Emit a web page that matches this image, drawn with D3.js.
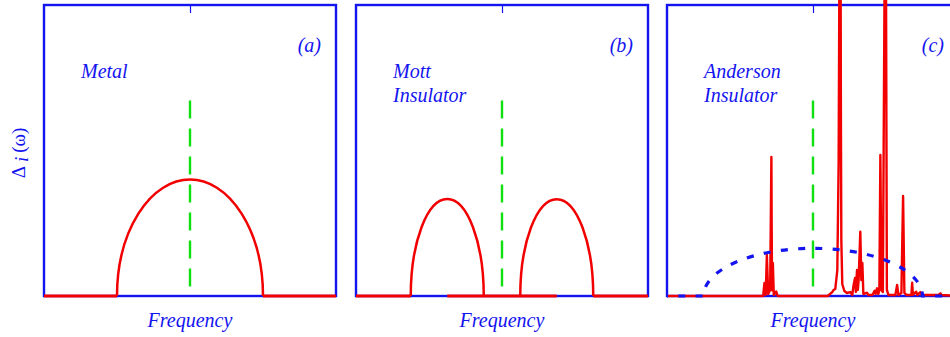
<!DOCTYPE html>
<html>
<head>
<meta charset="utf-8">
<script src="https://cdn.jsdelivr.net/npm/d3@7"></script>
<style>
  html, body { margin: 0; padding: 0; background: #fff; }
  svg { display: block; }
  text { font-family: "Liberation Serif", "Times New Roman", serif; fill: #1414f0; }
</style>
</head>
<body>
<svg id="chart" width="950" height="337"></svg>
<script>
// ---------------- data ----------------
const panelTags = ["(a)", "(b)", "(c)"];
const panelNames = [["Metal"], ["Mott", "Insulator"], ["Anderson", "Insulator"]];
const xTitle = "Frequency";
const yTitle = ["\u0394", "i", "(\u03c9)"];

const freqDomain = [-2, 2];
const dosDomain = [0, 2.5];
const fermiLevel = 0;
const fermiLineTop = 1.68;

// semicircular bands: [centre, half-width, height]
const bandsMetal = [[0, 1.0, 1.0]];
const bandsMott = [[-0.75, 0.5, 0.833], [0.75, 0.5, 0.833]];
// red zero-level segments: [from, to]
const zeroMetal = [[-2, -1], [1, 2]];
const zeroMott = [[-2, -1.25], [-0.75, 0.75], [1.25, 2]];
// host (clean) band drawn dashed in the Anderson panel
const hostBand = [0, 1.5, 0.41];
const hostZero = [[-2, -1.5], [1.5, 2]];

// Anderson local spectrum: [frequency, value]
const andersonSpectrum = [
  [-2.0, 0], [-0.683, 0], [-0.665, 0.112], [-0.648, 0.009], [-0.632, 0.352],
  [-0.614, 0.017], [-0.587, 0.052], [-0.570, 1.194], [-0.566, 0.60], [-0.561, 0.05],
  [-0.550, 0.283], [-0.537, 0.009], [-0.504, 0.039], [-0.484, 0],
  [0.20, 0], [0.264, 0.034], [0.282, 0.052], [0.305, 0.060], [0.333, 0.223],
  [0.351, 1.143], [0.358, 2.2], [0.364, 3.2], [0.377, 3.2], [0.382, 1.6], [0.388, 0.481],
  [0.401, 0.103], [0.429, 0.043], [0.466, 0.026], [0.511, 0.034], [0.539, 0.009],
  [0.556, 0.095], [0.576, 0.155], [0.587, 0.034], [0.603, 0.223], [0.614, 0.052],
  [0.625, 0.137], [0.648, 0.552], [0.662, 0.137], [0.676, 0.283], [0.690, 0.017],
  [0.740, 0.028], [0.758, 0.009], [0.813, 0.009], [0.845, 0.046], [0.858, 0.017],
  [0.878, 0.066], [0.895, 0.017], [0.909, 0.052], [0.923, 1.211], [0.937, 0.052],
  [0.957, 0.034], [0.985, 3.2], [0.998, 3.2], [1.012, 0.052], [1.033, 0.009],
  [1.129, 0.009], [1.152, 0.095], [1.170, 0.009], [1.211, 0.026], [1.234, 0.859],
  [1.252, 0.026], [1.280, 0.009], [1.348, 0.009], [1.358, 0.114], [1.369, 0.009],
  [1.413, 0.037], [1.431, 0.009], [1.472, 0.034], [1.485, 0.009], [1.719, 0.009],
  [1.746, 0.023], [1.760, 0.009], [2.0, 0]
];

// ---------------- layout ----------------
const BLUE = "#1414f0", RED = "#f20000", GREEN = "#10e010";
const panelLeft = [44, 356, 667];
const panelW = 292, panelTop = 5, panelBottom = 296;

const svg = d3.select("#chart");

function semiEllipsePath(x, y, b) {
  const [c, w, h] = b;
  const x0 = x(c - w), x1 = x(c + w);
  const rx = (x1 - x0) / 2, ry = y(0) - y(h);
  return `M${x0},${y(0)} A${rx},${ry} 0 0 1 ${x1},${y(0)}`;
}

panelLeft.forEach((left, i) => {
  const x = d3.scaleLinear().domain(freqDomain).range([left, left + panelW]);
  const y = d3.scaleLinear().domain(dosDomain).range([panelBottom, panelTop]);
  const g = svg.append("g");

  // frame
  g.append("rect")
    .attr("x", left).attr("y", panelTop)
    .attr("width", panelW).attr("height", panelBottom - panelTop)
    .attr("fill", "none").attr("stroke", BLUE).attr("stroke-width", 2.4);

  // top centre tick via axis
  const ax = d3.axisTop(x).tickValues([fermiLevel]).tickSize(-8).tickFormat("");
  const axg = g.append("g").attr("transform", `translate(0,${panelTop})`).call(ax);
  axg.select(".domain").remove();
  axg.selectAll("line").attr("stroke", BLUE).attr("stroke-width", 1.2);

  const line = d3.line().x(d => x(d[0])).y(d => y(d[1]));

  if (i === 0 || i === 1) {
    const bands = i === 0 ? bandsMetal : bandsMott;
    const zeros = i === 0 ? zeroMetal : zeroMott;
    g.selectAll(".zero").data(zeros).enter().append("path")
      .attr("d", d => line([[d[0], 0], [d[1], 0]]))
      .attr("stroke", RED).attr("stroke-width", 2.8).attr("fill", "none");
    g.selectAll(".band").data(bands).enter().append("path")
      .attr("d", d => semiEllipsePath(x, y, d))
      .attr("stroke", RED).attr("stroke-width", 2.5).attr("fill", "none");
  } else {
    g.append("path").datum(andersonSpectrum)
      .attr("d", line)
      .attr("stroke", RED).attr("stroke-width", 2.4).attr("fill", "none")
      .attr("stroke-linejoin", "round");
  }

  // Fermi level dashed line (drawn from the top down)
  g.append("path")
    .attr("d", line([[fermiLevel, fermiLineTop], [fermiLevel, 0]]))
    .attr("stroke", GREEN).attr("stroke-width", 2.4)
    .attr("stroke-dasharray", "18,10").attr("fill", "none");

  if (i === 2) {
    const p = `M${x(hostZero[0][0])},${y(0)} L${x(hostZero[0][1])},${y(0)} ` +
      semiEllipsePath(x, y, hostBand).replace(/^M[^A]+/, "") +
      ` L${x(hostZero[1][1])},${y(0)}`;
    g.append("path").attr("d", p)
      .attr("stroke", BLUE).attr("stroke-width", 3.2)
      .attr("stroke-dasharray", "7,10.3").attr("stroke-dashoffset", 6)
      .attr("fill", "none");
  }

  // texts
  g.append("text").attr("x", left + 277).attr("y", 52)
    .attr("text-anchor", "end").attr("font-style", "italic").attr("font-size", 20)
    .text(panelTags[i]);
  panelNames[i].forEach((t, j) => {
    g.append("text").attr("x", left + 37).attr("y", 77.5 + j * 24.5)
      .attr("font-style", "italic").attr("font-size", 20).text(t);
  });
  g.append("text").attr("x", x(0)).attr("y", 327)
    .attr("text-anchor", "middle").attr("font-style", "italic").attr("font-size", 20)
    .text(xTitle);
});

// y-axis title
const yt = svg.append("text")
  .attr("transform", "translate(25,153) rotate(-90)")
  .attr("text-anchor", "middle").attr("font-size", 19);
yt.append("tspan").text(yTitle[0]);
yt.append("tspan").attr("font-style", "italic").attr("dy", 3).attr("dx", 4).text(yTitle[1]);
yt.append("tspan").attr("dy", -3).attr("dx", 4).text(yTitle[2]);
</script>
</body>
</html>
